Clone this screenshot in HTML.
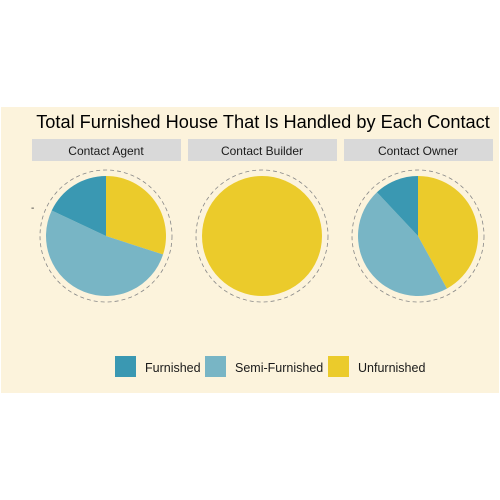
<!DOCTYPE html>
<html><head><meta charset="utf-8"><style>
body{margin:0;background:#fff;font-family:"Liberation Sans",sans-serif}
svg{display:block}
</style></head><body>
<svg width="500" height="500" xmlns="http://www.w3.org/2000/svg">
<rect x="1" y="107" width="498" height="286" fill="#fcf3dc"/>
<text x="263" y="128" font-size="18.2" text-anchor="middle" fill="#000">Total Furnished House That Is Handled by Each Contact</text>
<text x="31" y="211" font-size="10" fill="#333">-</text>
<g id="panels"></g>
<g id="legend"></g>
</svg>
<script>
const contacts=["Contact Agent","Contact Builder","Contact Owner"];
const unfurnished=[0.30,1.00,0.42];
const semiFurnished=[0.52,0.00,0.46];
const furnished=[0.18,0.00,0.12];
const categories=["Unfurnished","Semi-Furnished","Furnished"];
const colors={"Furnished":"#3a98b2","Semi-Furnished":"#78b5c5","Unfurnished":"#ebcb2b"};
const NS="http://www.w3.org/2000/svg";
const g=document.getElementById("panels");
function mk(t,a,p){const e=document.createElementNS(NS,t);for(const k in a)e.setAttribute(k,a[k]);(p||g).appendChild(e);return e;}
const cx0=106,dx=156,cy=236,R=60,RD=66;
function pt(cx,f,r){const a=f*2*Math.PI;return [cx+r*Math.sin(a),cy-r*Math.cos(a)];}
contacts.forEach((c,i)=>{
  const cx=cx0+i*dx;
  const strip=mk("rect",{x:cx-74,y:139,width:149,height:22,fill:"#d9d9d9"});
  
  
  const st=mk("text",{x:cx,y:155,"font-size":"12","text-anchor":"middle",fill:"#1a1a1a"});
  st.textContent=c;
  
  
  const vals=[unfurnished[i],semiFurnished[i],furnished[i]];
  const tot=vals.reduce((a,b)=>a+b,0);
  let cum=0;
  vals.forEach((v,j)=>{
    const f=v/tot;if(f<=0)return;
    let el;
    if(f>=0.9999){el=mk("circle",{cx:cx,cy:cy,r:R,fill:colors[categories[j]]});}
    else{
      const [x1,y1]=pt(cx,cum,R),[x2,y2]=pt(cx,cum+f,R);
      el=mk("path",{d:`M${cx},${cy}L${x1},${y1}A${R},${R} 0 ${f>0.5?1:0} 1 ${x2},${y2}Z`,fill:colors[categories[j]]});
    }
    
    
    cum+=f;
  });
  const dc=mk("circle",{cx:cx,cy:cy,r:RD,fill:"none",stroke:"#888","stroke-width":"0.8","stroke-dasharray":"4,3"});
  
  
});
const lg=document.getElementById("legend");
const legendItems=["Furnished","Semi-Furnished","Unfurnished"];
const lx=[115,205,328];
legendItems.forEach((n,i)=>{
  const k=mk("rect",{x:lx[i],y:356,width:21,height:21,fill:colors[n]},lg);
  
  
  const t=mk("text",{x:lx[i]+30,y:372,"font-size":"12.5",fill:"#1a1a1a"},lg);
  t.textContent=n;
  
  
});
</script>
</body></html>
